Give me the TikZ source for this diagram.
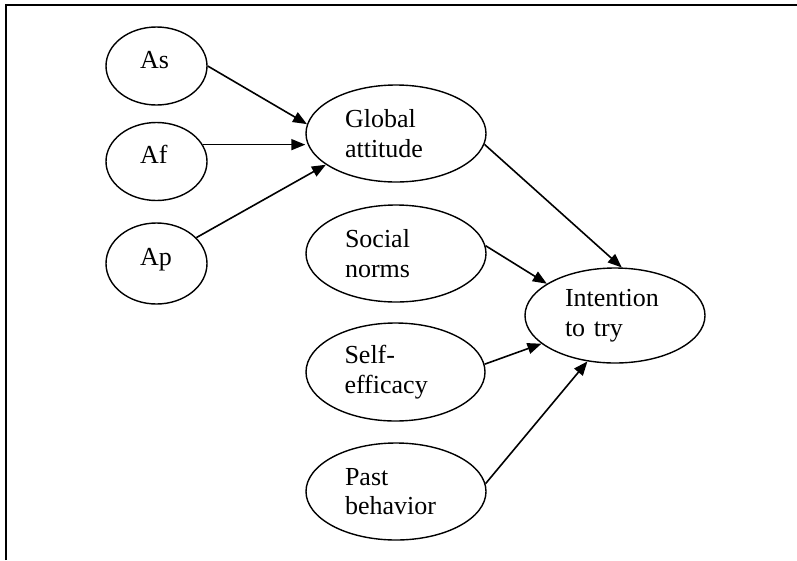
\documentclass[tikz,border=0pt]{standalone}
\usepackage{fontspec}
\setmainfont{Liberation Serif}
\usetikzlibrary{shapes.geometric,arrows.meta}
\begin{document}
\begin{tikzpicture}[x=1pt,y=-1pt,
  construct/.style={ellipse,draw,line width=1.4pt,inner sep=0pt,
    font=\fontsize{26}{29.5}\selectfont,align=left},
  wide/.style={construct,minimum width=180pt,minimum height=97pt,text width=102pt},
  small/.style={construct,minimum width=101pt,minimum height=78pt,text width=33pt,
    text height=17pt,text depth=13pt},
  link/.style={line width=1.6pt,-{Triangle[length=14pt,width=11pt]}},
  frameline/.style={line width=2pt}]
  \useasboundingbox (0,0) rectangle (797,560);
  % open frame: top and left rules only
  \coordinate (fTL) at (6,5);
  \coordinate (fTR) at (797,5);
  \coordinate (fBL) at (6,560);
  \draw[frameline] (fBL) -- (fTL) -- (fTR);

  % attitude components
  \node[small] (As) at (156.5,66) {As};
  \node[small] (Af) at (156.5,161.5) {Af};
  \node[small,minimum height=81pt] (Ap) at (156.5,263.5) {Ap};

  % middle column
  \node[wide] (Global) at (396,133.5) {Global\\attitude};
  \node[wide] (Social) at (396,253.5) {Social\\norms};
  \node[wide,minimum width=179pt,minimum height=98pt] (Self) at (395.5,372) {Self-\\efficacy};
  \node[wide] (Past) at (396,491.5) {Past\\behavior};

  % outcome
  \node[wide,minimum height=95pt,text width=100pt] (Intent) at (615,315.5) {Intention\\to try};

  % paths
  \draw[link] (As.east) -- (Global.174);
  \draw[link] (Af.20) -- (Af.20 -| Global.west);
  \draw[link] (Ap.33) -- (Global.204);
  \draw[link] (Global.-7) -- (Intent.82);
  \draw[link] (Social.5.5) -- (Intent.155);
  \draw[link] (Self.5.7) -- (Intent.201);
  \draw[link] (Past.5.5) -- (Intent.239);
\end{tikzpicture}
\end{document}
